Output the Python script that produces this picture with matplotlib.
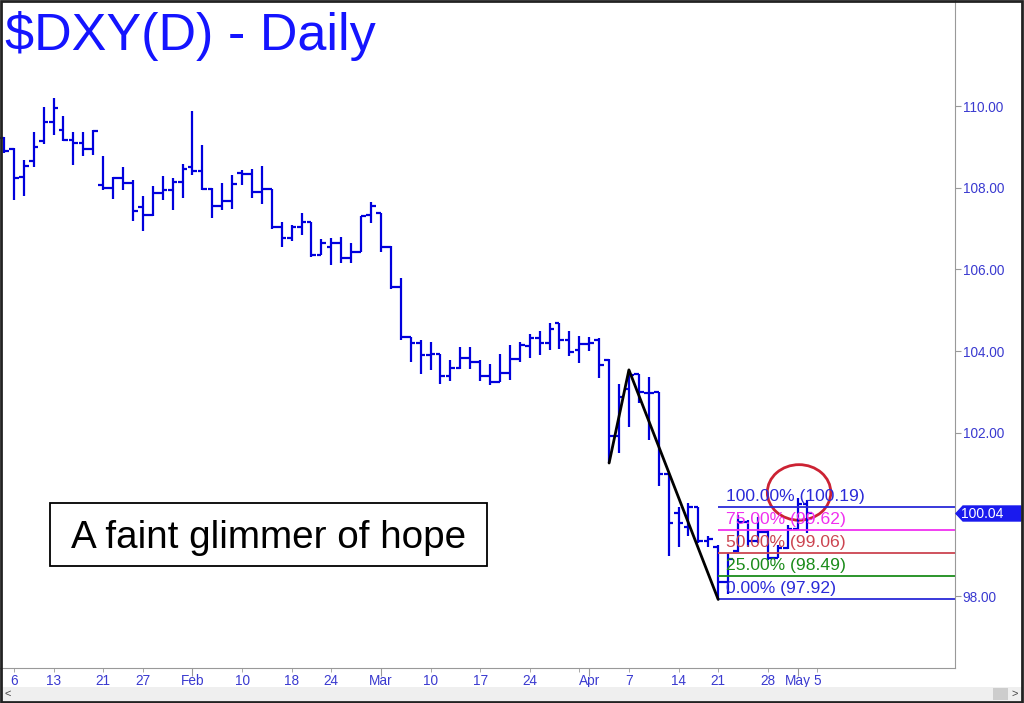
import matplotlib
matplotlib.use('Agg')
import matplotlib.pyplot as plt
from matplotlib.patches import Rectangle, Polygon, Ellipse

plt.rcParams['font.family'] = ['Liberation Sans', 'DejaVu Sans']

W, H = 1024, 703

# Daily bars, Jan 3 .. May 2 2025 (trading-day index 0..81)
opens = [109.22, 108.94, 108.25, 108.66, 109.15, 109.62, 109.41, 109.17, 109.09, 108.94,
         108.07, 107.99, 108.23, 108.12, 107.52, 107.33, 107.88, 107.94, 108.15, 108.50,
         108.42, 107.96, 107.56, 107.67, 108.37, 108.34, 107.90, 107.98, 107.03, 106.76,
         107.03, 107.17, 106.35, 106.56, 106.64, 106.27, 106.43, 107.33, 107.37, 106.54,
         105.56, 104.35, 104.21, 103.90, 103.93, 103.39, 103.59, 103.82, 103.74, 103.39,
         103.25, 103.47, 103.80, 104.13, 104.31, 104.21, 104.68, 104.27, 104.02, 104.17,
         104.27, 103.78, 101.92, 103.07, 103.44, 102.97, 103.01, 100.99, 100.03, 99.70,
         100.19, 99.34, 99.20, 98.35, 99.10, 99.82, 99.34, 99.56, 98.93, 99.17,
         99.64, 100.26]
highs = [109.25, 108.96, 108.69, 109.37, 109.97, 110.19, 109.76, 109.37, 109.37, 109.41,
         108.78, 108.25, 108.51, 108.20, 107.80, 108.04, 108.29, 108.23, 108.58, 109.88,
         109.05, 108.00, 108.11, 108.31, 108.43, 108.45, 108.52, 107.98, 107.17, 107.09,
         107.39, 107.17, 106.74, 106.76, 106.80, 106.65, 107.31, 107.66, 107.39, 106.57,
         105.78, 104.35, 104.26, 104.23, 103.93, 103.79, 104.09, 104.11, 103.78, 103.68,
         103.93, 104.15, 104.23, 104.43, 104.48, 104.68, 104.68, 104.50, 104.37, 104.35,
         104.31, 103.80, 103.19, 103.54, 103.44, 103.36, 103.01, 100.99, 100.19, 100.29,
         100.19, 99.47, 99.25, 99.05, 99.99, 99.87, 99.95, 99.62, 99.25, 99.74,
         100.40, 100.36]
lows = [108.85, 107.70, 107.80, 108.51, 109.07, 109.29, 109.15, 108.56, 108.78, 108.80,
        107.94, 107.72, 107.94, 107.19, 106.95, 107.30, 107.70, 107.45, 107.74, 108.31,
        107.94, 107.27, 107.45, 107.47, 108.07, 107.74, 107.60, 107.00, 106.54, 106.70,
        106.84, 106.31, 106.35, 106.11, 106.16, 106.15, 106.43, 107.13, 106.43, 105.51,
        104.26, 103.74, 103.44, 103.54, 103.19, 103.28, 103.55, 103.55, 103.28, 103.17,
        103.25, 103.29, 103.74, 103.82, 103.90, 104.03, 104.04, 103.87, 103.72, 104.01,
        103.33, 101.26, 101.51, 102.15, 102.72, 101.83, 100.70, 98.98, 99.21, 99.47,
        99.31, 99.21, 97.92, 98.05, 99.09, 99.21, 99.29, 98.89, 98.93, 99.15,
        99.62, 99.54]
closes = [108.90, 108.23, 108.53, 108.99, 109.62, 109.94, 109.17, 109.09, 108.94, 109.39,
          107.99, 108.23, 108.12, 107.44, 107.33, 107.88, 107.94, 108.15, 108.45, 108.42,
          107.96, 107.56, 107.67, 108.09, 108.34, 107.90, 107.98, 107.03, 106.76, 107.03,
          107.17, 106.35, 106.64, 106.64, 106.27, 106.43, 107.31, 107.55, 106.54, 105.56,
          104.35, 104.21, 103.90, 103.93, 103.39, 103.59, 103.82, 103.74, 103.39, 103.25,
          103.47, 103.80, 104.15, 104.31, 104.21, 104.53, 104.27, 103.99, 104.17, 104.21,
          103.66, 101.92, 102.87, 103.42, 103.01, 102.97, 100.99, 99.78, 99.78, 100.19,
          99.34, 99.40, 98.35, 98.90, 99.82, 99.34, 99.56, 98.93, 99.17, 99.64,
          100.26, 100.04]

week_ticks = [1, 5, 10, 14, 24, 29, 33, 43, 48, 53, 58, 63, 68, 72, 77, 82]
week_labels = ['6', '13', '21', '27', '10', '18', '24', '10', '17', '24', '', '7', '14', '21', '28', '5']
month_ticks = [19, 38, 59, 80]
month_labels = ['Feb', 'Mar', 'Apr', 'May']

fib_levels = [100.19, 99.62, 99.06, 98.49, 97.92]
fib_pcts = ['100.00%', '75.00%', '50.00%', '25.00%', '0.00%']
fib_colors = ['#2a2ad8', '#f030f0', '#cc4450', '#1a8c1a', '#2a2ad8']

zig_x = [61, 63, 72]
zig_y = [101.26, 103.54, 97.92]

last_price = 100.04
title = r'\$DXY(D) - Daily'
note = 'A faint glimmer of hope'

fig = plt.figure(figsize=(W / 100, H / 100), dpi=100)
fig.patch.set_facecolor('white')

def fx(x):
    return x / W

def fy(y):
    return 1 - y / H

ax = fig.add_axes([0, fy(668), fx(955), 668 / H])
ax.set_facecolor('white')

idx = list(range(len(opens)))
bar_c = '#0000dd'
tw = 0.48
ax.vlines(idx, lows, highs, color=bar_c, lw=1.6)
ax.hlines(opens, [i - tw for i in idx], idx, color=bar_c, lw=1.6)
ax.hlines(closes, idx, [i + tw for i in idx], color=bar_c, lw=1.6)

xmin, xmax = -0.40, 95.87
ax.set_xlim(xmin, xmax)
ax.set_ylim(96.242, 112.595)

# Fibonacci levels
for lev, pct, col in zip(fib_levels, fib_pcts, fib_colors):
    ax.hlines(lev, 72, xmax, color=col, lw=1.3)
    ax.text(72.75, lev + 0.15, f'{pct} ({lev:.2f})', color=col, fontsize=12.6,
            va='baseline', ha='left')

ax.plot(zig_x, zig_y, color='black', lw=2.0, solid_capstyle='round')

ax.add_patch(Ellipse((80.15, 100.54), 6.4, 1.36, fill=False, ec='#cc2233', lw=2.0))

# axes styling
for s in ['top', 'left']:
    ax.spines[s].set_visible(False)
ax.spines['right'].set_color('#999999')
ax.spines['bottom'].set_color('#999999')
ax.yaxis.tick_right()
ax.set_yticks([98, 100, 102, 104, 106, 108, 110])
ax.set_yticklabels(['98.00', '', '102.00', '104.00', '106.00', '108.00', '110.00'])
ax.tick_params(axis='y', colors='#999999', labelcolor='#3a3ad0', labelsize=9.8, length=4, pad=1.5)

ax.set_xticks(month_ticks)
ax.set_xticklabels(month_labels)
ax.set_xticks(week_ticks, minor=True)
ax.set_xticklabels(week_labels, minor=True)
ax.tick_params(axis='x', which='major', colors='#999999', labelcolor='#3a3ad0', labelsize=9.8,
               length=6, pad=-1.5)
ax.tick_params(axis='x', which='minor', colors='#999999', labelcolor='#3a3ad0', labelsize=9.8,
               length=3, pad=1.5)

# last price tag
tag_y = 513.5
poly = Polygon([(fx(956), fy(tag_y)), (fx(963), fy(506)), (fx(1021), fy(506)),
                (fx(1021), fy(521)), (fx(963), fy(521))], closed=True,
               transform=fig.transFigure, fc='#1a1aee', ec='#1a1aee')
fig.patches.append(poly)
fig.text(fx(961), fy(tag_y), f'{last_price:.2f}', color='white', fontsize=10,
         va='center', ha='left')

# title
fig.text(fx(5), fy(50), title, color='#1414ff', fontsize=37.5, va='baseline', ha='left')

# note box
fig.patches.append(Rectangle((fx(50), fy(566)), fx(437), 63 / H, transform=fig.transFigure,
                             fill=False, ec='black', lw=1.3))
fig.text(fx(268.5), fy(548), note, color='black', fontsize=27.8, va='baseline', ha='center')

# scroll bar
fig.patches.append(Rectangle((fx(1), fy(701)), fx(1021), 14 / H, transform=fig.transFigure,
                             fc='#efefef', ec='none'))
fig.patches.append(Rectangle((fx(993), fy(700)), fx(15), 12 / H, transform=fig.transFigure,
                             fc='#cdcdcd', ec='none'))
fig.text(fx(8), fy(694), '<', fontsize=8, color='#444444', va='center', ha='center')
fig.text(fx(1015), fy(694), '>', fontsize=8, color='#444444', va='center', ha='center')

# outer border
fig.patches.append(Rectangle((0.001, 0.001), 0.997, 0.997, transform=fig.transFigure,
                             fill=False, ec='#222222', lw=2))

fig.savefig('out.png', dpi=100)
